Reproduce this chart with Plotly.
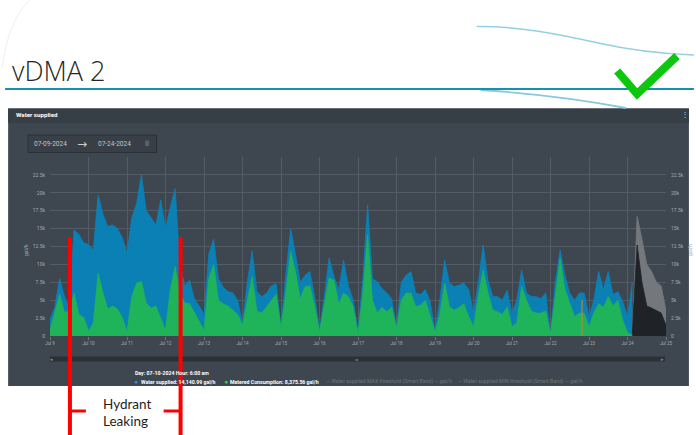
import plotly.graph_objects as go
import pandas as pd

W, H = 696, 435
PL, PR, PT, PB = 50, 668, 157, 336  # plot area in pixels

# ---------------- data (thousand gal/h, 3-hourly from Jul 9 00:00) ----------------
supplied_k = [
    2.3, 4.0, 8.0, 5.5, 4.0, 14.8, 14.2, 13.0,      # Jul 9
    12.8, 12.0, 19.7, 17.0, 15.3, 15.5, 15.0, 13.8,  # Jul 10
    11.6, 16.5, 18.5, 22.5, 17.5, 16.5, 15.5, 19.0,  # Jul 11
    15.0, 18.0, 20.6, 10.0, 7.0, 7.8, 5.2, 4.2,      # Jul 12
    3.0, 11.5, 13.5, 8.0, 6.8, 6.2, 6.0, 5.0,        # Jul 13
    1.8, 7.5, 11.9, 6.2, 5.5, 6.0, 7.0, 7.3,         # Jul 14
    1.3, 8.5, 15.0, 11.5, 7.5, 8.5, 9.0, 5.5,        # Jul 15
    0.8, 5.5, 10.9, 8.3, 6.5, 10.6, 7.0, 5.0,        # Jul 16
    0.6, 8.0, 18.3, 8.0, 7.6, 6.6, 6.0, 5.2,         # Jul 17
    1.3, 7.5, 8.5, 9.0, 6.0, 5.8, 6.5, 4.8,          # Jul 18
    0.8, 5.0, 10.6, 7.4, 6.9, 7.1, 7.4, 6.5,         # Jul 19
    3.2, 7.5, 12.7, 7.8, 5.5, 5.5, 5.0, 6.4,         # Jul 20
    3.2, 5.0, 9.2, 6.0, 5.5, 5.5, 5.2, 6.0,          # Jul 21
    0.4, 7.5, 12.0, 8.5, 6.0, 5.0, 6.0, 6.0,         # Jul 22
    2.7, 5.0, 9.0, 6.5, 9.0, 5.8, 6.2, 4.8,          # Jul 23
    2.7, 7.4,                                        # Jul 24
]
metered_k = [
    0.8, 3.4, 5.8, 3.3, 3.5, 6.0, 3.0, 2.6,          # Jul 9
    0.7, 1.8, 8.8, 6.0, 3.8, 4.2, 3.8, 2.6,          # Jul 10
    0.6, 5.5, 7.4, 7.6, 4.6, 3.9, 4.2, 2.5,          # Jul 11
    0.8, 6.5, 9.7, 6.0, 4.6, 4.5, 3.3, 2.2,          # Jul 12
    0.8, 8.0, 10.0, 5.0, 4.5, 4.2, 3.6, 3.0,         # Jul 13
    1.5, 5.0, 8.3, 3.5, 3.2, 4.1, 5.0, 5.8,          # Jul 14
    1.1, 6.0, 11.8, 9.0, 5.2, 6.9, 7.0, 4.2,         # Jul 15
    0.6, 4.3, 8.1, 7.8, 4.5, 6.0, 5.5, 4.1,          # Jul 16
    0.4, 5.8, 14.1, 5.0, 3.2, 4.0, 3.4, 4.0,         # Jul 17
    1.1, 5.0, 6.0, 6.0, 4.1, 4.3, 5.0, 2.8,          # Jul 18
    0.6, 3.0, 7.4, 4.1, 3.6, 4.0, 4.5, 2.7,          # Jul 19
    1.3, 5.5, 9.2, 6.0, 3.6, 3.4, 3.0, 4.1,          # Jul 20
    1.3, 1.8, 6.9, 5.0, 3.5, 3.2, 3.2, 3.5,          # Jul 21
    0.3, 5.5, 10.8, 6.5, 4.6, 2.7, 3.2, 3.2,         # Jul 22
    1.3, 3.2, 4.5, 4.0, 5.5, 4.2, 5.0, 2.2,          # Jul 23
    0.5, 0.1,                                        # Jul 24
]
# forecast band, 3-hourly from Jul 24 03:00 to Jul 25 00:00
band_upper_k = [0.5, 16.7, 13.5, 10.0, 9.0, 7.5, 7.0, 3.5]
band_mid_k = [0.3, 12.7, 7.5, 4.2, 3.9, 3.5, 3.2, 1.5]
# data-gap marker
gap_time = ["2024-07-22 19:30"]
gap_k = [5.0]

y_ticks = [0, 2500, 5000, 7500, 10000, 12500, 15000, 17500, 20000, 22500]
y_tick_text = ["0", "2.5k", "5k", "7.5k", "10k", "12.5k", "15k", "17.5k", "20k", "22.5k"]

t_main = pd.date_range("2024-07-09 00:00", periods=len(supplied_k), freq="3h")
t_band = pd.date_range("2024-07-24 03:00", periods=len(band_upper_k), freq="3h")

BLUE = "#0b80b5"
GREEN = "#1fb35a"
PANEL = "#3e4750"
GRID = "#545d66"
TICK = "#a3aab1"

fig = go.Figure()
fig.add_trace(go.Scatter(x=t_main, y=[v * 1000 for v in supplied_k], mode="lines",
                         line=dict(color=BLUE, width=0.8), fill="tozeroy", fillcolor=BLUE,
                         name="Water supplied", showlegend=False))
fig.add_trace(go.Scatter(x=t_main, y=[v * 1000 for v in metered_k], mode="lines",
                         line=dict(color=GREEN, width=0.8), fill="tozeroy", fillcolor=GREEN,
                         name="Metered Consumption", showlegend=False))
fig.add_trace(go.Scatter(x=t_band, y=[v * 1000 for v in band_upper_k], mode="lines",
                         line=dict(color="#74787d", width=0.8), fill="tozeroy", fillcolor="#74787d",
                         yaxis="y2", showlegend=False))
fig.add_trace(go.Scatter(x=t_band, y=[v * 1000 for v in band_mid_k], mode="lines",
                         line=dict(color="#1f2226", width=0.8), fill="tozeroy", fillcolor="#1f2226",
                         yaxis="y2", showlegend=False))
fig.add_trace(go.Bar(x=pd.to_datetime(gap_time), y=[v * 1000 for v in gap_k], width=4.3e6,
                     marker=dict(color="rgba(190,130,50,0.6)", line=dict(width=0)),
                     yaxis="y2", showlegend=False))


def X(px):
    return (px - PL) / (PR - PL)


def Y(py):
    return (PB - py) / (PB - PT)


shapes = []


def rect(x0, y0, x1, y1, fill, line=None, layer="below", lw=0):
    shapes.append(dict(type="rect", xref="paper", yref="paper", x0=X(x0), x1=X(x1), y0=Y(y0), y1=Y(y1),
                       fillcolor=fill, line=dict(color=line or fill, width=lw), layer=layer))


def seg(x0, y0, x1, y1, color, width, layer="above"):
    shapes.append(dict(type="line", xref="paper", yref="paper", x0=X(x0), x1=X(x1), y0=Y(y0), y1=Y(y1),
                       line=dict(color=color, width=width), layer=layer))


def path(pts_cmd, color, width, layer="above"):
    s = ""
    for cmd, pts in pts_cmd:
        s += cmd + " " + " ".join(f"{X(a):.5f},{Y(b):.5f}" for a, b in pts) + " "
    shapes.append(dict(type="path", xref="paper", yref="paper", path=s.strip(),
                       line=dict(color=color, width=width), layer=layer))


# dashboard panel
rect(8, 108.5, 691, 386, PANEL)
rect(8, 108.5, 691, 123, "#363e46")
rect(28, 135, 157, 152.5, "#383f47", line="#2a3036", lw=1)
rect(145.5, 140.5, 149.5, 146, "#59626a")
rect(50, 356.5, 667, 361.5, "#2a3137")

# slide decorations
path([("M", [(2, 68)]), ("Q", [(8, 20), (30, 0)])], "#efefef", 1, layer="below")
path([("M", [(478, 26.5)]), ("C", [(520, 26), (560, 34), (600, 43)]), ("S", [(670, 54), (696, 55)])],
     "#93d0e1", 1.5)
path([("M", [(482, 90)]), ("Q", [(560, 95), (628, 108)])], "#86c9dc", 1.8)
seg(5, 89, 696, 89, "#1590ad", 2)
path([("M", [(619, 71)]), ("L", [(639, 94)]), ("L", [(679, 56)])], "#0cc80c", 8)

# red "hydrant leaking" brackets
seg(70, 237, 70, 436, "#ff0000", 4)
seg(181, 237, 181, 436, "#ff0000", 4)
seg(70, 411, 86, 411, "#ff0000", 3)
seg(164, 411, 181, 411, "#ff0000", 3)

ann = []


def txt(x, y, s, size, color, anchor="left", font="Roboto", bold=False, angle=0, weight=None):
    f = dict(size=size, color=color, family=font)
    if weight:
        f["weight"] = weight
    ann.append(dict(x=X(x), y=Y(y), xref="paper", yref="paper", text=(f"<b>{s}</b>" if bold else s),
                    showarrow=False, xanchor=anchor, yanchor="middle", textangle=angle, font=f))


txt(10, 71, "vDMA 2", 27, "#262626", font="Open Sans", weight=300)
txt(14, 115.5, "Water supplied", 6.2, "#ffffff", bold=True)
txt(687, 114, "⋮", 8, "#d0d4d8", anchor="center")
txt(32, 144, "07-09-2024", 6.5, "#c0c6cc")
txt(82, 143.5, "→", 12, "#c9ced3", anchor="center", font="DejaVu Sans")
txt(96, 144, "07-24-2024", 6.5, "#c0c6cc")
txt(26, 250, "gal/h", 5, TICK, anchor="center", angle=-90)
txt(692, 250, "gal/h", 5, TICK, anchor="center", angle=-90)
txt(52, 359, "◂", 5, "#8b9299", anchor="center")
txt(664, 359, "▸", 5, "#8b9299", anchor="center")
txt(358, 359, "≡", 6, "#8b9299", anchor="center")
txt(133, 372.5, "Day: 07-10-2024 Hour: 6:00 am", 5.2, "#ffffff", bold=True)
txt(132.5, 381.5, "●", 7, "#1a93d4")
txt(139, 381.5, "Water supplied: 14,140.99 gal/h", 5.2, "#ffffff", bold=True)
txt(222.5, 381.5, "●", 7, "#3cc43c")
txt(229, 381.5, "Metered Consumption: 8,375.56 gal/h", 5.2, "#ffffff", bold=True)
txt(325, 381.5, "— Water supplied MAX threshold (Smart Band) — gal/h", 5.2, "#6c757e")
txt(457, 381.5, "— Water supplied MIN threshold (Smart Band) — gal/h", 5.2, "#6c757e")
txt(101, 404, "Hydrant", 13.5, "#1e1e1e", font="Lato")
txt(101, 421, "Leaking", 13.5, "#1e1e1e", font="Lato")

fig.update_layout(
    width=W, height=H,
    margin=dict(l=PL, r=W - PR, t=PT, b=H - PB, pad=0),
    paper_bgcolor="#ffffff", plot_bgcolor="rgba(0,0,0,0)",
    showlegend=False, bargap=0,
    shapes=shapes, annotations=ann,
    xaxis=dict(type="date", range=["2024-07-09 00:00", "2024-07-25 00:00"], dtick=86400000,
               tick0="2024-07-09", tickformat="%b %-d", showgrid=True, gridcolor=GRID, gridwidth=0.8,
               ticks="outside", ticklen=3, tickcolor="#6d767e", tickwidth=0.8,
               tickfont=dict(size=4.5, color=TICK, family="Roboto"), showline=False, zeroline=False,
               fixedrange=True),
    yaxis=dict(range=[0, 25000], tickvals=y_ticks, ticktext=y_tick_text, showgrid=True,
               gridcolor=GRID, gridwidth=0.8, zeroline=False, showline=False,
               tickfont=dict(size=5, color=TICK, family="Roboto"), ticks="", ticklabelstandoff=4),
    yaxis2=dict(range=[0, 25000], tickvals=y_ticks, ticktext=y_tick_text, overlaying="y",
                side="right", showgrid=False, zeroline=False, showline=False,
                tickfont=dict(size=5, color=TICK, family="Roboto"), ticks="", ticklabelstandoff=4),
)

fig.write_html("out.html", config={"displayModeBar": False},
               post_script="document.body.style.margin='0px';document.body.style.overflow='hidden';")
